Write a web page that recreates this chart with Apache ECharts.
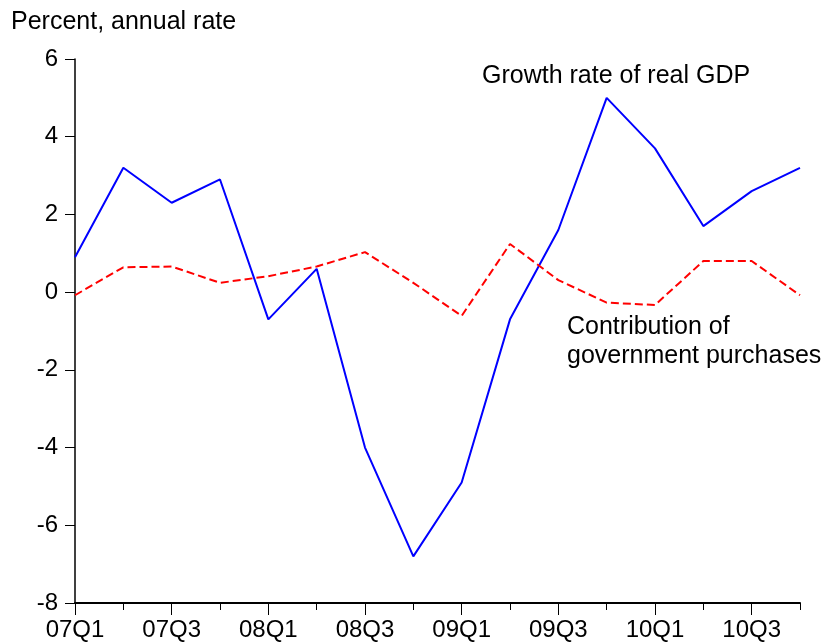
<!DOCTYPE html>
<html>
<head>
<meta charset="utf-8">
<script src="https://cdn.jsdelivr.net/npm/echarts@6/dist/echarts.min.js"></script>
<style>
  html, body { margin: 0; padding: 0; background: #fff; }
  #chart { width: 828px; height: 643px; }
</style>
</head>
<body>
<div id="chart"></div>
<script>
// quarters 07Q1 .. 10Q4
const quarters = ['07Q1','07Q2','07Q3','07Q4','08Q1','08Q2','08Q3','08Q4',
                  '09Q1','09Q2','09Q3','09Q4','10Q1','10Q2','10Q3','10Q4']
// growth rate of real GDP (percent, annual rate)
const gdpGrowth = [0.9, 3.2, 2.3, 2.9, -0.7, 0.6, -4.0, -6.8, -4.9, -0.7, 1.6, 5.0, 3.7, 1.7, 2.6, 3.2]
// contribution of government purchases
const govContrib = [-0.08, 0.64, 0.66, 0.24, 0.41, 0.66, 1.03, 0.24, -0.61, 1.24, 0.31, -0.27, -0.33, 0.8, 0.8, -0.08]
const yTicks = { min: -8, max: 6, step: 2 }

const font = 'Liberation Sans, Arial, sans-serif'
const chart = echarts.init(document.getElementById('chart'), null, { renderer: 'canvas' })

const option = {
  animation: false,
  backgroundColor: '#fff',
  grid: { left: 75, right: 28, top: 59, bottom: 40 },
  xAxis: [
    {
      // major ticks + labels
      type: 'category',
      data: quarters,
      boundaryGap: false,
      position: 'bottom',
      axisLine: { onZero: false, lineStyle: { color: '#000', width: 2 } },
      axisTick: { interval: 1, length: 12, lineStyle: { color: '#000', width: 1 } },
      axisLabel: { interval: 1, color: '#000', fontSize: 24, fontFamily: font, margin: 15 },
      splitLine: { show: false }
    },
    {
      // minor ticks on every quarter
      type: 'category',
      data: quarters,
      boundaryGap: false,
      position: 'bottom',
      axisLine: { show: false, onZero: false },
      axisTick: { interval: 0, length: 7, lineStyle: { color: '#000', width: 1 } },
      axisLabel: { show: false },
      splitLine: { show: false }
    }
  ],
  yAxis: {
    type: 'value',
    min: yTicks.min,
    max: yTicks.max,
    interval: yTicks.step,
    axisLine: { show: true, lineStyle: { color: '#000', width: 1.5 } },
    axisTick: { show: true, length: 10, lineStyle: { color: '#000', width: 1 } },
    axisLabel: { color: '#000', fontSize: 24, fontFamily: font, margin: 17 },
    splitLine: { show: false }
  },
  series: [
    {
      name: 'Growth rate of real GDP',
      type: 'line',
      data: gdpGrowth,
      symbol: 'none',
      lineStyle: { color: '#0000ff', width: 2 }
    },
    {
      name: 'Contribution of government purchases',
      type: 'line',
      data: govContrib,
      symbol: 'none',
      lineStyle: { color: '#ff0000', width: 2, type: [8, 4] }
    }
  ],
  graphic: [
    {
      type: 'text', left: 11, top: 10,
      style: { text: 'Percent, annual rate', fill: '#000', font: '25px ' + font }
    },
    {
      type: 'text', left: 482, top: 64,
      style: { text: 'Growth rate of real GDP', fill: '#000', font: '25px ' + font }
    },
    {
      type: 'text', left: 567, top: 313,
      style: { text: 'Contribution of\ngovernment purchases', fill: '#000', font: '25px ' + font, lineHeight: 29 }
    }
  ]
}

option && chart.setOption(option)
</script>
</body>
</html>
